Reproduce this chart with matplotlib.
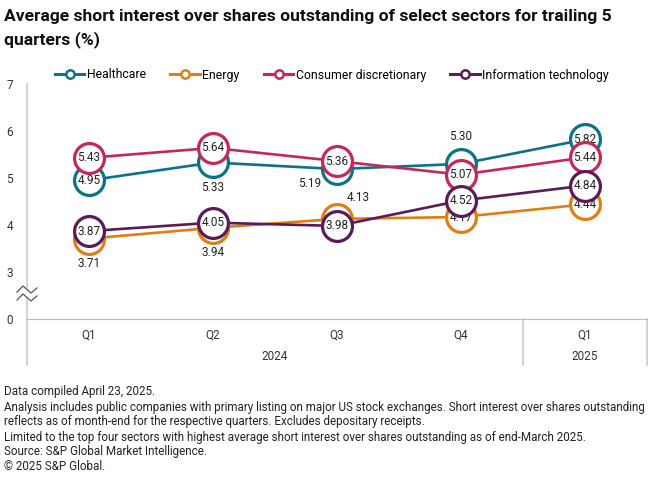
import matplotlib.pyplot as plt
from matplotlib.lines import Line2D
from matplotlib.patches import Polygon
import matplotlib.transforms as mtransforms

plt.rcParams['font.family'] = ['Roboto', 'DejaVu Sans']

W, H = 660, 482

quarters = ['Q1', 'Q2', 'Q3', 'Q4', 'Q1']
years = ['2024', '2025']

healthcare = [4.95, 5.33, 5.19, 5.30, 5.82]
energy = [3.71, 3.94, 4.13, 4.17, 4.44]
consumer = [5.43, 5.64, 5.36, 5.07, 5.44]
infotech = [3.87, 4.05, 3.98, 4.52, 4.84]

series = [
    ('Healthcare', healthcare, '#0B7389'),
    ('Energy', energy, '#E07E10'),
    ('Consumer discretionary', consumer, '#C4285A'),
    ('Information technology', infotech, '#5A1B58'),
]

# label placement per point: 'c' inside, 'b' below, 'a' above, 'bl' below-left, 'ar' above-right
placement = {
    'Healthcare': ['c', 'b', 'bl', 'a', 'c'],
    'Energy': ['b', 'b', 'ar', 'c', 'c'],
    'Consumer discretionary': ['c'] * 5,
    'Information technology': ['c'] * 5,
}
offsets = {'c': (0, 0), 'b': (0, -25), 'a': (0, 27), 'bl': (-27, -14), 'ar': (21, 21)}

fig = plt.figure(figsize=(W / 100, H / 100), dpi=100)
ax = fig.add_axes([27 / W, 1 - 319 / H, 620 / W, 235 / H])

x = list(range(len(quarters)))
for i, (name, vals, col) in enumerate(series):
    z = 3 + i * 2
    ax.plot(x, vals, color=col, lw=1.9, marker='o', ms=21.5, mew=2.3,
            mfc='white', mec=col, zorder=z, clip_on=False)
    for xi, v, p in zip(x, vals, placement[name]):
        ax.annotate(f'{v:.2f}', (xi, v), xytext=offsets[p], textcoords='offset pixels',
                    ha='center', va='center', fontsize=8.5, color='#222222',
                    zorder=z + 1 if p == 'c' else 20)

ax.set_xlim(-0.5, 4.5)
ax.set_ylim(2, 7)
ax.set_yticks([2, 3, 4, 5, 6, 7])
ax.set_yticklabels(['0', '3', '4', '5', '6', '7'])
ax.set_xticks(x)
ax.set_xticklabels(quarters)
ax.tick_params(length=0, labelsize=8.5, colors='#333333')
ax.tick_params(axis='y', pad=10)
ax.tick_params(axis='x', pad=7)
for s in ['top', 'right']:
    ax.spines[s].set_visible(False)
ax.spines['left'].set_color('#cccccc')
ax.spines['bottom'].set_color('#bbbbbb')
ax.spines['left'].set_linewidth(1.2)

trans = mtransforms.blended_transform_factory(ax.transData, ax.transAxes)
for xs in [-0.5, 3.5, 4.5]:
    ax.plot([xs, xs], [0, -46 / 235], color='#cccccc', lw=1.2,
            transform=trans, clip_on=False)
ax.text(1.5, -38 / 235, years[0], transform=trans, ha='center', va='center',
        fontsize=8.5, color='#333333')
ax.text(4.0, -38 / 235, years[1], transform=trans, ha='center', va='center',
        fontsize=8.5, color='#333333')

# axis break mark
def fp(px, py):
    return (px / W, 1 - py / H)

poly = Polygon([fp(20, 288), fp(34, 288), fp(34, 298), fp(20, 298)],
               closed=True, transform=fig.transFigure, fc='white', ec='none', zorder=30)
fig.add_artist(poly)
for dy in (0, 8):
    pts = [fp(17, 292 + dy), fp(23, 286 + dy), fp(31, 293 + dy), fp(37, 288 + dy)]
    fig.add_artist(Line2D([p[0] for p in pts], [p[1] for p in pts],
                          transform=fig.transFigure, color='#555555', lw=0.9, zorder=31))

# legend
handles = [Line2D([0], [0], color=c, lw=2.2, marker='o', ms=6, mfc='white',
                  mec=c, mew=1.8) for _, _, c in series]
fig.legend(handles, [n for n, _, _ in series], loc='center', ncol=4,
           bbox_to_anchor=(332 / W, 1 - 75 / H), frameon=False, fontsize=8.8,
           handlelength=2.4, handletextpad=0.2, columnspacing=2.0)

fig.text(4 / W, 1 - 17 / H,
         'Average short interest over shares outstanding of select sectors for trailing 5',
         fontsize=12.6, fontweight='bold', color='#111111', va='center')
fig.text(4 / W, 1 - 40 / H, 'quarters (%)',
         fontsize=12.6, fontweight='bold', color='#111111', va='center')

notes = [
    (391, 'Data compiled April 23, 2025.'),
    (407, 'Analysis includes public companies with primary listing on major US stock exchanges. Short interest over shares outstanding'),
    (421, 'reflects as of month-end for the respective quarters. Excludes depositary receipts.'),
    (437, 'Limited to the top four sectors with highest average short interest over shares outstanding as of end-March 2025.'),
    (452, 'Source: S&P Global Market Intelligence.'),
    (466, '\u00a9 2025 S&P Global.'),
]
for py, t in notes:
    fig.text(4 / W, 1 - py / H, t, fontsize=8.4, color='#222222', va='center')

fig.savefig('out.png', dpi=100)
